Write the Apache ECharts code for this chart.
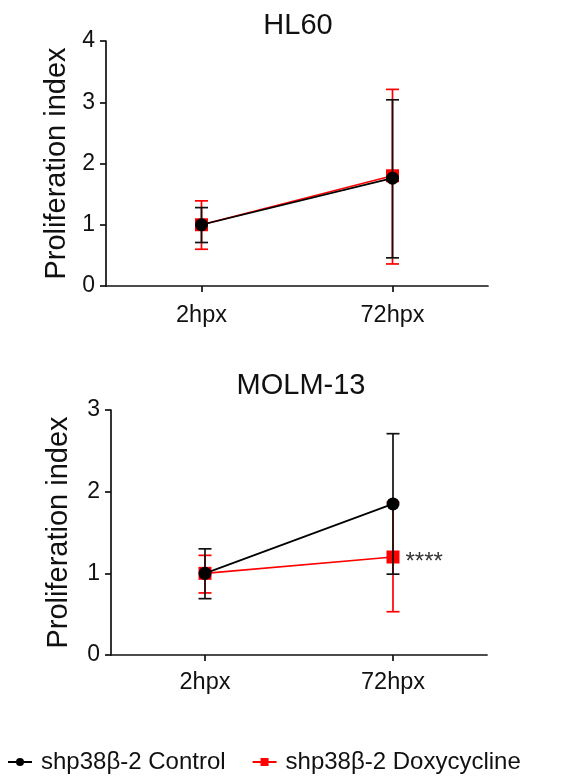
<!DOCTYPE html>
<html>
<head>
<meta charset="utf-8">
<script src="https://cdn.jsdelivr.net/npm/echarts@6/dist/echarts.min.js"></script>
<style>
html,body{margin:0;padding:0;background:#fff;}
#main{width:566px;height:781px;}
</style>
</head>
<body>
<div id="main"></div>
<script>
var categories = ['2hpx', '72hpx'];
var seriesNames = ['shp38β-2 Control', 'shp38β-2 Doxycycline'];
var panelTitles = ['HL60', 'MOLM-13'];
var hl60Ticks = [0, 1, 2, 3, 4];
var molmTicks = [0, 1, 2, 3];

var hl60ControlMean = [1.0, 1.76];
var hl60ControlLow = [0.71, 0.46];
var hl60ControlHigh = [1.28, 3.04];
var hl60DoxMean = [1.0, 1.80];
var hl60DoxLow = [0.60, 0.36];
var hl60DoxHigh = [1.39, 3.21];

var molmControlMean = [1.0, 1.85];
var molmControlLow = [0.69, 0.99];
var molmControlHigh = [1.30, 2.71];
var molmDoxMean = [1.0, 1.20];
var molmDoxLow = [0.76, 0.53];
var molmDoxHigh = [1.22, 1.87];
var significance = ['', '****'];

var FONT = 'Liberation Sans, Arial, sans-serif';
var TXT = '#111';

function errData(low, high) {
  return categories.map(function (c, i) { return [i, low[i], high[i]]; });
}
function errSeries(idx, low, high, color, z) {
  return {
    type: 'custom', xAxisIndex: idx, yAxisIndex: idx, z: z, silent: true,
    data: errData(low, high),
    encode: { x: 0, y: [1, 2] },
    renderItem: function (params, api) {
      var lo = api.coord([api.value(0), api.value(1)]);
      var hi = api.coord([api.value(0), api.value(2)]);
      var hw = 6.5;
      var st = { stroke: color, lineWidth: 1.7 };
      return {
        type: 'group',
        children: [
          { type: 'line', shape: { x1: lo[0], y1: lo[1], x2: hi[0], y2: hi[1] }, style: st },
          { type: 'line', shape: { x1: lo[0] - hw, y1: lo[1], x2: lo[0] + hw, y2: lo[1] }, style: st },
          { type: 'line', shape: { x1: hi[0] - hw, y1: hi[1], x2: hi[0] + hw, y2: hi[1] }, style: st }
        ]
      };
    }
  };
}
function lineSeries(idx, name, mean, color, symbol, size, z, labels) {
  return {
    type: 'line', name: name, xAxisIndex: idx, yAxisIndex: idx, z: z,
    symbol: symbol, symbolSize: size, showAllSymbol: true,
    lineStyle: { color: color, width: 1.7 },
    itemStyle: { color: color, opacity: 1 },
    emphasis: { disabled: true },
    data: mean.map(function (v, i) {
      var d = { value: v };
      if (labels && labels[i]) {
        d.label = { show: true, position: 'right', distance: 6, formatter: labels[i],
          fontFamily: FONT, fontSize: 24, color: '#333', offset: [0, 5] };
      }
      return d;
    })
  };
}
function xAxis(idx, margin) {
  return {
    type: 'category', gridIndex: idx, data: categories, boundaryGap: true,
    axisLine: { lineStyle: { color: '#111', width: 1.7 } },
    axisTick: { show: true, alignWithLabel: true, length: 6, lineStyle: { color: '#111', width: 1.7 } },
    axisLabel: { fontFamily: FONT, fontSize: 23.5, color: TXT, margin: margin },
    splitLine: { show: false }
  };
}
function yAxis(idx, ticks, gap) {
  return {
    type: 'value', gridIndex: idx, min: ticks[0], max: ticks[ticks.length - 1], interval: 1,
    name: 'Proliferation index', nameLocation: 'middle', nameGap: gap,
    nameTextStyle: { fontFamily: FONT, fontSize: 29, color: TXT },
    axisLine: { show: true, lineStyle: { color: '#111', width: 1.7 } },
    axisTick: { show: true, length: 6, lineStyle: { color: '#111', width: 1.7 } },
    axisLabel: { fontFamily: FONT, fontSize: 23, color: TXT, margin: 11 },
    splitLine: { show: false }
  };
}

var option = {
  animation: false,
  backgroundColor: '#fff',
  title: [
    { text: panelTitles[0], left: 293, top: 6, textAlign: 'center',
      textStyle: { fontFamily: FONT, fontSize: 29, fontWeight: 'normal', color: TXT } },
    { text: panelTitles[1], left: 296, top: 366, textAlign: 'center',
      textStyle: { fontFamily: FONT, fontSize: 29, fontWeight: 'normal', color: TXT } }
  ],
  grid: [
    { left: 106, right: 78, top: 41, height: 245 },
    { left: 111, right: 79, top: 410, height: 245 }
  ],
  xAxis: [xAxis(0, 18), xAxis(1, 16)],
  yAxis: [yAxis(0, hl60Ticks, 35), yAxis(1, molmTicks, 38)],
  legend: {
    left: 2, top: 745, itemWidth: 24, itemHeight: 10, itemGap: 26,
    data: seriesNames,
    textStyle: { fontFamily: FONT, fontSize: 24, color: TXT, padding: [0, 0, 0, 4] }
  },
  series: [
    errSeries(0, hl60DoxLow, hl60DoxHigh, '#ff0000', 1),
    lineSeries(0, seriesNames[1], hl60DoxMean, '#ff0000', 'rect', 13, 2),
    errSeries(0, hl60ControlLow, hl60ControlHigh, '#111', 3),
    lineSeries(0, seriesNames[0], hl60ControlMean, '#000', 'circle', 13, 4),
    errSeries(1, molmDoxLow, molmDoxHigh, '#ff0000', 1),
    lineSeries(1, seriesNames[1], molmDoxMean, '#ff0000', 'rect', 13, 2, significance),
    errSeries(1, molmControlLow, molmControlHigh, '#111', 3),
    lineSeries(1, seriesNames[0], molmControlMean, '#000', 'circle', 13, 4)
  ]
};
var chart = echarts.init(document.getElementById('main'), null, { renderer: 'canvas' });
chart.setOption(option);
</script>
</body>
</html>
